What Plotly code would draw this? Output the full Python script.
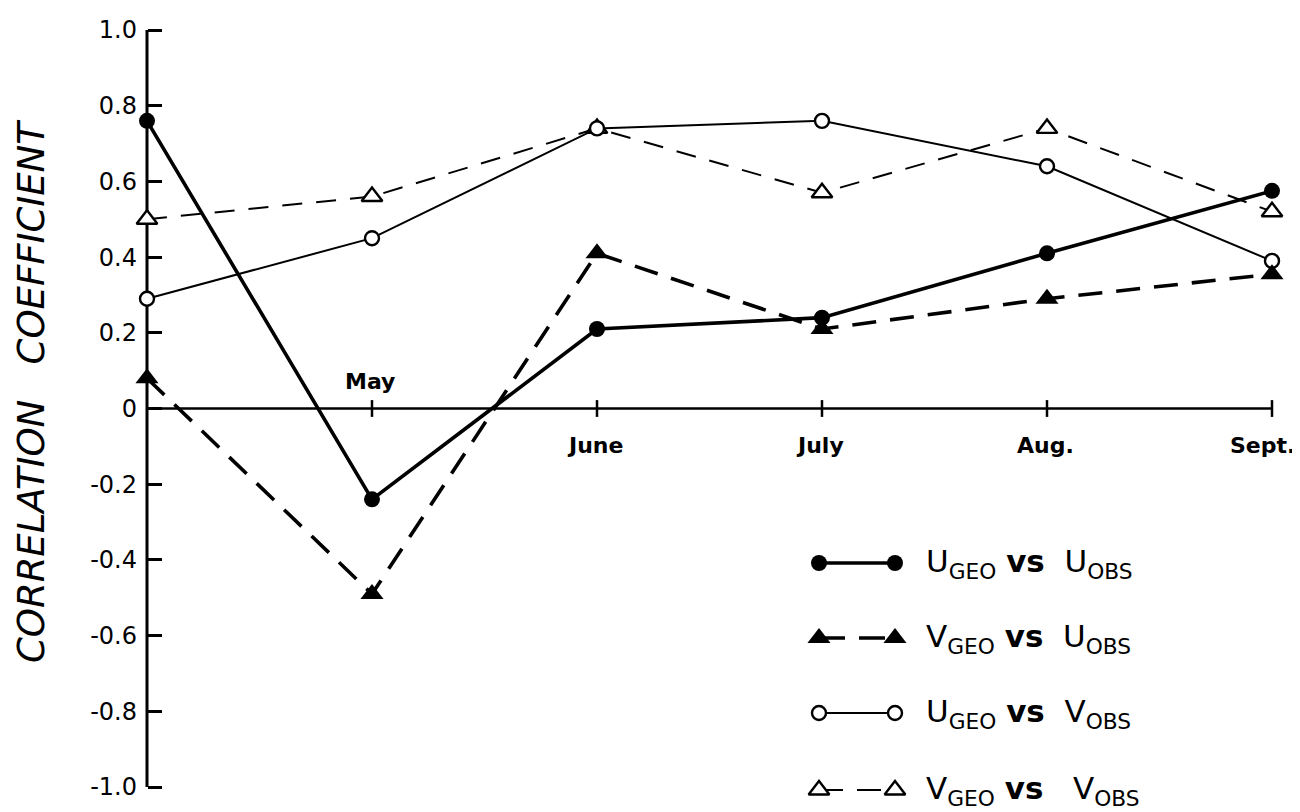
import plotly.graph_objects as go

# ---------------- data ----------------
month_pos = [0, 1, 2, 3, 4, 5]
month_labels = ["", "May", "June", "July", "Aug.", "Sept."]

u_geo_u_obs = [0.76, -0.24, 0.21, 0.24, 0.41, 0.575]
v_geo_u_obs = [0.08, -0.49, 0.41, 0.21, 0.29, 0.355]
u_geo_v_obs = [0.29, 0.45, 0.74, 0.76, 0.64, 0.39]
v_geo_v_obs = [0.50, 0.56, 0.74, 0.57, 0.74, 0.52]

y_ticks = [1.0, 0.8, 0.6, 0.4, 0.2, 0.0, -0.2, -0.4, -0.6, -0.8, -1.0]
y_tick_text = ["1.0", "0.8", "0.6", "0.4", "0.2", "0", "-0.2", "-0.4", "-0.6", "-0.8", "-1.0"]

series_names = [
    "U<sub>GEO</sub> <b>vs</b>  U<sub>OBS</sub>",
    "V<sub>GEO</sub> <b>vs</b>  U<sub>OBS</sub>",
    "U<sub>GEO</sub> <b>vs</b>  V<sub>OBS</sub>",
    "V<sub>GEO</sub> <b>vs</b>   V<sub>OBS</sub>",
]

# ---------------- geometry (pixels, page coords minus body margin) ----------------
OFF = 8                      # default page body margin
W, H = 1300 - OFF, 812 - OFF
AX_LEFT, AX_RIGHT = 147 - OFF, 1272 - OFF   # x of first / last month
AX_TOP, AX_BOTTOM = 30 - OFF, 787 - OFF     # y of +1.0 / -1.0
x_lo, x_hi = month_pos[0], month_pos[-1]
y_lo, y_hi = -1.0, 1.0
ppx = (AX_RIGHT - AX_LEFT) / (x_hi - x_lo)
ppy = (AX_BOTTOM - AX_TOP) / (y_hi - y_lo)
x_range = [x_lo - AX_LEFT / ppx, x_hi + (W - AX_RIGHT) / ppx]
y_range = [y_lo - (H - AX_BOTTOM) / ppy, y_hi + AX_TOP / ppy]

# ---------------- styles ----------------
styles = [
    dict(line=dict(color="black", width=3.6, dash="solid"),
         marker=dict(symbol="circle", size=16, color="black")),
    dict(line=dict(color="black", width=3.6, dash="24px,14px"),
         marker=dict(symbol="triangle-up", size=20, color="black")),
    dict(line=dict(color="black", width=2, dash="solid"),
         marker=dict(symbol="circle", size=14, color="white", line=dict(color="black", width=2.4))),
    dict(line=dict(color="black", width=2, dash="20px,14px"),
         marker=dict(symbol="triangle-up", size=18, color="white", line=dict(color="black", width=2.4))),
]
legend_dash = ["solid", "26px,14px", "solid", "24px,14px"]

series_values = [u_geo_u_obs, v_geo_u_obs, u_geo_v_obs, v_geo_v_obs]

fig = go.Figure()

# axes lines (y axis at first month, zero line across months)
fig.add_shape(type="line", x0=x_lo, x1=x_lo, y0=y_lo, y1=y_hi, xref="x", yref="y",
              line=dict(color="black", width=3), layer="below")
fig.add_shape(type="line", x0=x_lo, x1=x_hi, y0=0, y1=0, xref="x", yref="y",
              line=dict(color="black", width=2.5), layer="below")

# month tick marks on the zero line
fig.add_trace(go.Scatter(
    x=month_pos[1:], y=[0] * (len(month_pos) - 1), mode="markers",
    marker=dict(symbol="line-ns-open", size=12, color="black", line=dict(color="black", width=2.5)),
    cliponaxis=False, showlegend=False, hoverinfo="skip"))

# data series
for idx in [3, 2, 1, 0]:
    st = styles[idx]
    fig.add_trace(go.Scatter(
        x=month_pos, y=series_values[idx], mode="lines+markers",
        line=st["line"], marker=st["marker"], cliponaxis=False,
        showlegend=False, name=series_names[idx]))

# ---------------- manual legend (pixel overlay axes) ----------------
legend_rows_y = [563 - OFF, 638 - OFF, 713 - OFF, 790 - OFF]
legend_x0, legend_x1 = 819 - OFF, 895 - OFF
legend_text_x = 924 - OFF
for i, ry in enumerate(legend_rows_y):
    st = styles[i]
    fig.add_trace(go.Scatter(
        x=[legend_x0, legend_x1], y=[ry, ry], mode="lines+markers",
        line=dict(color="black", width=st["line"]["width"], dash=legend_dash[i]),
        marker=st["marker"], xaxis="x2", yaxis="y2",
        cliponaxis=False, showlegend=False, hoverinfo="skip"))
    fig.add_annotation(
        x=legend_text_x, y=ry, xref="x2", yref="y2", xanchor="left", yanchor="middle",
        text=series_names[i], showarrow=False,
        font=dict(family="DejaVu Sans", size=31, color="black"))

# month labels
for pos, lab in zip(month_pos, month_labels):
    if not lab:
        continue
    above = (lab == "May")
    fig.add_annotation(
        x=pos, y=0, xref="x", yref="y", text=lab, showarrow=False,
        yanchor="middle", xanchor="center",
        yshift=(27 if above else -37),
        xshift=(-10 if pos == x_hi else -2),
        font=dict(family="DejaVu Sans", size=22, color="black", weight="bold"))

# y axis title
fig.add_annotation(
    x=31 - OFF, y=392 - OFF, xref="x2", yref="y2", text="CORRELATION   COEFFICIENT",
    textangle=-90, showarrow=False, xanchor="center", yanchor="middle",
    font=dict(family="DejaVu Sans", size=37, color="black", style="italic"))

fig.update_layout(
    width=W, height=H,
    margin=dict(l=0, r=0, t=0, b=0),
    paper_bgcolor="white", plot_bgcolor="white",
    showlegend=False,
    xaxis=dict(range=x_range, visible=False, fixedrange=True),
    yaxis=dict(range=y_range, tickvals=y_ticks, ticktext=y_tick_text,
               anchor="free", position=AX_LEFT / W,
               showgrid=False, zeroline=False, showline=False,
               ticks="inside", ticklen=14, tickwidth=2.5, tickcolor="black",
               ticklabelstandoff=10,
               tickfont=dict(family="DejaVu Sans", size=24, color="black")),
    xaxis2=dict(range=[0, W], overlaying="x", visible=False, fixedrange=True),
    yaxis2=dict(range=[H, 0], overlaying="y", visible=False, fixedrange=True),
)

fig.write_html("out.html")
